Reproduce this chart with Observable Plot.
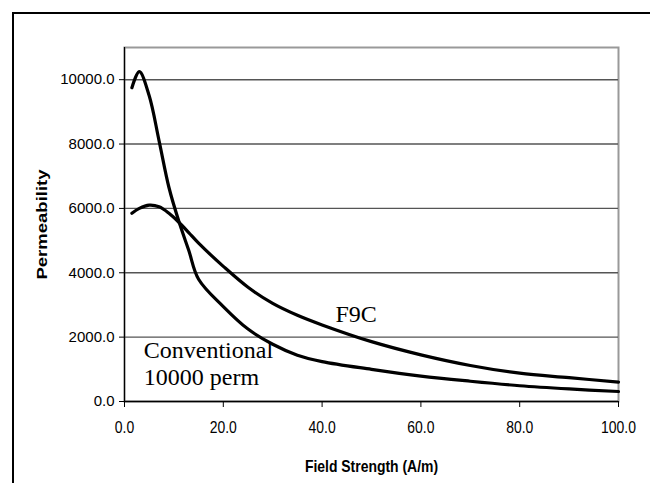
<!DOCTYPE html>
<html>
<head>
<meta charset="utf-8">
<script src="https://cdn.jsdelivr.net/npm/d3@7"></script>
<script src="https://cdn.jsdelivr.net/npm/@observablehq/plot@0.6"></script>
<style>
  html, body { margin: 0; padding: 0; background: #fff; }
  #wrap { position: relative; width: 650px; height: 483px; overflow: hidden; }
  #border { position: absolute; left: 12px; top: 12px; width: 700px; height: 600px; border: 2px solid #000; box-sizing: border-box; }
  #chart { position: absolute; left: 0; top: 0; }
  #chart svg text { font-family: "Liberation Sans", Arial, sans-serif; }
  #chart svg g[aria-label="x-axis label"] text,
  #chart svg g[aria-label="y-axis label"] text { font-weight: bold; }
  #chart svg g[aria-label="text"] text { font-family: "Liberation Serif", "Times New Roman", serif; }
</style>
</head>
<body>
<div id="wrap">
  <div id="border"></div>
  <div id="chart"></div>
</div>
<script>
// Field strength (A/m) sample points
const fieldConventional = [1.5, 3, 5, 7, 9, 11, 13, 15, 20, 25, 30, 35, 40, 50, 60, 70, 80, 90, 100];
const permConventional  = [9750, 10250, 9500, 8100, 6650, 5600, 4700, 3800, 2950, 2250, 1780, 1440, 1240, 1000, 790, 630, 490, 390, 310];

const fieldF9C = [1.5, 3, 5, 7, 9, 11, 13, 15, 20, 25, 30, 35, 40, 50, 60, 70, 80, 90, 100];
const permF9C  = [5850, 6000, 6100, 6050, 5850, 5570, 5250, 4920, 4200, 3550, 3050, 2680, 2380, 1860, 1450, 1120, 880, 740, 600];

const xTicks = [0, 20, 40, 60, 80, 100];
const yTicks = [0, 2000, 4000, 6000, 8000, 10000];

const annotationText = ["F9C", "Conventional\n10000 perm"];
const annotationX = [42.7, 3.9];
const annotationY = [2724, 1196];

const conventional = fieldConventional.map((x, i) => ({x, y: permConventional[i]}));
const f9c = fieldF9C.map((x, i) => ({x, y: permF9C[i]}));
const notes = annotationText.map((t, i) => ({t, x: annotationX[i], y: annotationY[i]}));

const chart = Plot.plot({
  width: 650,
  height: 483,
  marginLeft: 124,
  marginRight: 32,
  marginTop: 47,
  marginBottom: 82,
  style: {background: "transparent", overflow: "visible"},
  x: {domain: [0, 100]},
  y: {domain: [0, 11000]},
  marks: [
    Plot.frame({stroke: "#999", strokeWidth: 2}),
    Plot.ruleY(yTicks.filter(d => d > 0), {stroke: "#555", strokeWidth: 1.4}),
    Plot.axisY({
      ticks: yTicks, tickFormat: d3.format(".1f"), tickSize: 5, tickPadding: 5,
      fontSize: 15, color: "#000",
      label: "Permeability", labelAnchor: "center", labelArrow: "none", labelOffset: 88
    }),
    Plot.axisX({
      ticks: xTicks, tickFormat: d3.format(".1f"), tickSize: 6, tickPadding: 13,
      fontSize: 17, color: "#000",
      label: "Field Strength (A/m)", labelAnchor: "center", labelArrow: "none", labelOffset: 70
    }),
    Plot.ruleX([0], {stroke: "#000", strokeWidth: 1.2}),
    Plot.ruleY([0], {stroke: "#000", strokeWidth: 1.6}),
    Plot.line(f9c, {x: "x", y: "y", curve: "catmull-rom", stroke: "#000", strokeWidth: 3.2}),
    Plot.line(conventional, {x: "x", y: "y", curve: "catmull-rom", stroke: "#000", strokeWidth: 3.2}),
    Plot.text(notes, {x: "x", y: "y", text: "t", textAnchor: "start", lineAnchor: "middle", lineHeight: 1.1, fontSize: 24, fill: "#000"})
  ]
});
document.getElementById("chart").appendChild(chart);

// Narrow, tall look of the original x-axis texts
chart.querySelectorAll('g[aria-label="x-axis tick label"] text, g[aria-label="x-axis label"] text').forEach(t => {
  const w = t.getComputedTextLength();
  t.setAttribute("textLength", (w * 0.82).toFixed(1));
  t.setAttribute("lengthAdjust", "spacingAndGlyphs");
});
// Stretched vertical axis title as in the original
chart.querySelectorAll('g[aria-label="y-axis label"] text').forEach(t => {
  t.setAttribute("textLength", "110");
  t.setAttribute("lengthAdjust", "spacingAndGlyphs");
});
</script>
</body>
</html>
